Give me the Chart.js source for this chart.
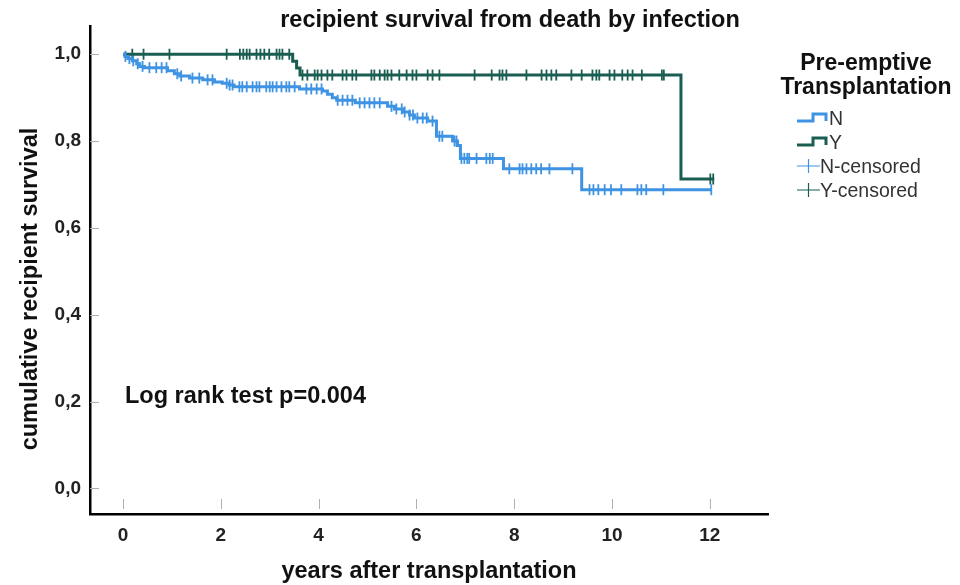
<!DOCTYPE html>
<html><head><meta charset="utf-8">
<script src="https://cdn.jsdelivr.net/npm/chart.js@4.4.0/dist/chart.umd.min.js"></script>
<style>html,body{margin:0;padding:0;background:#fff;}#wrap{width:960px;height:585px;}</style>
</head><body><div id="wrap"><canvas id="c" width="960" height="585"></canvas></div>
<script>
// ---- data ----
const chartTitle = 'recipient survival from death by infection';
const xTitle = 'years after transplantation';
const yTitle = 'cumulative recipient survival';
const legendTitle = ['Pre-emptive', 'Transplantation'];
const seriesNames = ['N', 'Y'];
const censorNames = ['N-censored', 'Y-censored'];
const annotationText = 'Log rank test p=0.004';

const xTicks = [0, 2, 4, 6, 8, 10, 12];
const xTickLabels = ['0', '2', '4', '6', '8', '10', '12'];
const yTicks = [0, 0.2, 0.4, 0.6, 0.8, 1.0];
const yTickLabels = ['0,0', '0,2', '0,4', '0,6', '0,8', '1,0'];

// Kaplan-Meier step points (time in years, survival)
const nTimes = [0, 0.04, 0.10, 0.19, 0.28, 0.34, 0.44, 0.91, 1.05, 1.16, 1.36, 1.63, 1.87, 2.03, 2.17, 2.27, 3.61, 4.08, 4.18, 4.28, 4.37, 4.75, 5.41, 5.55, 5.72, 5.86, 5.96, 6.23, 6.41, 6.74, 6.84, 6.90, 7.78, 9.38, 12.03];
const nSurv  = [1.0, 0.995, 0.99, 0.985, 0.978, 0.972, 0.969, 0.962, 0.955, 0.950, 0.945, 0.941, 0.936, 0.933, 0.929, 0.925, 0.920, 0.915, 0.908, 0.900, 0.894, 0.888, 0.880, 0.874, 0.867, 0.860, 0.853, 0.846, 0.811, 0.800, 0.790, 0.760, 0.736, 0.688, 0.688];
const yTimes = [0, 3.47, 3.55, 3.62, 11.41, 12.09];
const ySurv  = [1.0, 0.984, 0.968, 0.952, 0.7125, 0.7125];

// censoring times
const nCensored = [0.05, 0.13, 0.21, 0.30, 0.40, 0.54, 0.68, 0.79, 0.89, 1.11, 1.19, 1.42, 1.56, 1.73, 1.83, 2.12, 2.18, 2.24, 2.38, 2.44, 2.53, 2.65, 2.73, 2.79, 2.93, 3.00, 3.06, 3.14, 3.24, 3.34, 3.40, 3.51, 3.75, 3.85, 3.96, 4.06, 4.39, 4.49, 4.59, 4.69, 4.84, 4.94, 5.04, 5.14, 5.25, 5.49, 5.59, 5.70, 5.76, 5.86, 5.93, 6.02, 6.13, 6.21, 6.33, 6.47, 6.53, 6.78, 6.82, 6.92, 6.98, 7.04, 7.08, 7.23, 7.43, 7.50, 7.56, 7.90, 8.11, 8.17, 8.25, 8.35, 8.45, 8.55, 8.72, 9.19, 9.54, 9.62, 9.72, 9.85, 9.98, 10.19, 10.52, 10.60, 10.70, 11.05, 12.03];
const yCensored = [0.19, 0.42, 0.95, 2.12, 2.39, 2.46, 2.53, 2.59, 2.73, 2.81, 2.89, 2.99, 3.14, 3.20, 3.26, 3.40, 3.67, 3.77, 3.92, 3.98, 4.06, 4.18, 4.28, 4.49, 4.57, 4.69, 4.77, 5.08, 5.14, 5.25, 5.35, 5.41, 5.49, 5.65, 5.80, 5.92, 6.00, 6.23, 6.33, 6.47, 7.19, 7.54, 7.70, 7.76, 7.84, 8.25, 8.56, 8.66, 8.76, 8.86, 9.17, 9.38, 9.60, 9.68, 9.74, 9.95, 10.05, 10.21, 10.32, 10.42, 10.61, 11.02, 11.06, 12.01, 12.07];

// ---- styling ----
const colN = '#3f93e3';
const colY = '#1a5e52';
const FONT = '"Liberation Sans", Arial, sans-serif';

function survAt(times, surv, t) {
  let v = surv[0];
  for (let i = 0; i < times.length; i++) { if (times[i] <= t) v = surv[i]; }
  return v;
}
const toXY = (ts, ss) => ts.map((t, i) => ({x: t, y: ss[i]}));

const textPlugin = {
  id: 'texts',
  beforeDatasetsDraw(chart) {
    const ctx = chart.ctx, xs = chart.scales.x, ys = chart.scales.y, a = chart.chartArea;
    ctx.save();
    ctx.strokeStyle = '#b0b0b0'; ctx.lineWidth = 1;
    yTicks.forEach(v => { const p = Math.round(ys.getPixelForValue(v)) + 0.5; ctx.beginPath(); ctx.moveTo(a.left, p); ctx.lineTo(a.left + 9, p); ctx.stroke(); });
    xTicks.forEach(v => { const p = Math.round(xs.getPixelForValue(v)) + 0.5; ctx.beginPath(); ctx.moveTo(p, a.bottom - 5); ctx.lineTo(p, a.bottom - 15); ctx.stroke(); });
    ctx.restore();
  },
  afterDraw(chart) {
    const ctx = chart.ctx, a = chart.chartArea;
    ctx.save();
    ctx.fillStyle = '#111';
    ctx.textAlign = 'center'; ctx.textBaseline = 'alphabetic';
    ctx.font = 'bold 23.5px ' + FONT;
    ctx.fillText(chartTitle, 510, 27);
    ctx.fillText(xTitle, (a.left + a.right) / 2, 578);
    ctx.save();
    ctx.translate(37, 289); ctx.rotate(-Math.PI / 2);
    ctx.fillText(yTitle, 0, 0);
    ctx.restore();
    // annotation
    ctx.textAlign = 'left';
    ctx.font = 'bold 23.5px ' + FONT;
    ctx.fillText(annotationText, 125, 403);
    // legend
    ctx.textAlign = 'center';
    ctx.font = 'bold 23px ' + FONT;
    ctx.fillText(legendTitle[0], 866, 70);
    ctx.fillText(legendTitle[1], 866, 94);
    ctx.textAlign = 'left';
    ctx.font = '19.5px ' + FONT;
    ctx.fillStyle = '#333';
    const rows = [125, 149, 173, 197];
    [colN, colY].forEach((c, i) => {
      const b = rows[i];
      ctx.strokeStyle = c; ctx.lineWidth = 3;
      ctx.beginPath();
      ctx.moveTo(797, b - 4); ctx.lineTo(813, b - 4); ctx.lineTo(813, b - 11); ctx.lineTo(826, b - 11); ctx.lineTo(826, b - 4);
      ctx.stroke();
      ctx.fillText(seriesNames[i], 829, b);
    });
    [colN, colY].forEach((c, i) => {
      const b = rows[i + 2];
      ctx.strokeStyle = c; ctx.lineWidth = 1.2;
      ctx.beginPath();
      ctx.moveTo(797, b - 7); ctx.lineTo(820, b - 7);
      ctx.moveTo(808.5, b - 14); ctx.lineTo(808.5, b);
      ctx.stroke();
      ctx.fillText(censorNames[i], 820, b);
    });
    ctx.restore();
  }
};

new Chart(document.getElementById('c'), {
  type: 'line',
  data: {
    datasets: [
      { label: seriesNames[0], data: toXY(nTimes, nSurv), borderColor: colN, borderWidth: 3, stepped: 'before', pointRadius: 0, fill: false },
      { label: seriesNames[1], data: toXY(yTimes, ySurv), borderColor: colY, borderWidth: 3, stepped: 'before', pointRadius: 0, fill: false },
      { label: censorNames[0], data: nCensored.map(t => ({x: t, y: survAt(nTimes, nSurv, t)})), showLine: false, pointStyle: 'line', rotation: 90, pointRadius: 5.5, borderColor: colN, borderWidth: 1.8, pointHoverRadius: 5.5 },
      { label: censorNames[1], data: yCensored.map(t => ({x: t, y: survAt(yTimes, ySurv, t)})), showLine: false, pointStyle: 'line', rotation: 90, pointRadius: 5.5, borderColor: colY, borderWidth: 1.8, pointHoverRadius: 5.5 }
    ]
  },
  options: {
    responsive: false, animation: false, devicePixelRatio: 1,
    layout: { padding: { left: 0, top: 26, right: 192, bottom: 0 } },
    plugins: { legend: { display: false }, title: { display: false }, tooltip: { enabled: false } },
    scales: {
      x: {
        type: 'linear', min: -0.675, max: 13.19,
        afterFit: s => { s.height = 71; },
        afterBuildTicks: s => { s.ticks = xTicks.map(v => ({value: v})); },
        ticks: { callback: (v, i) => xTickLabels[i], color: '#222', font: { family: FONT, size: 19, weight: 'bold' }, padding: 10, maxRotation: 0 },
        grid: { display: false, drawTicks: false },
        border: { display: true, color: '#000', width: 2.5 }
      },
      y: {
        type: 'linear', min: -0.059, max: 1.065,
        afterFit: s => { s.width = 90; },
        afterBuildTicks: s => { s.ticks = yTicks.map(v => ({value: v})); },
        ticks: { callback: (v, i) => yTickLabels[i], color: '#222', font: { family: FONT, size: 19, weight: 'bold' }, padding: 9 },
        grid: { display: false, drawTicks: false },
        border: { display: true, color: '#000', width: 2.5 }
      }
    }
  },
  plugins: [textPlugin]
});
</script>
</body></html>
